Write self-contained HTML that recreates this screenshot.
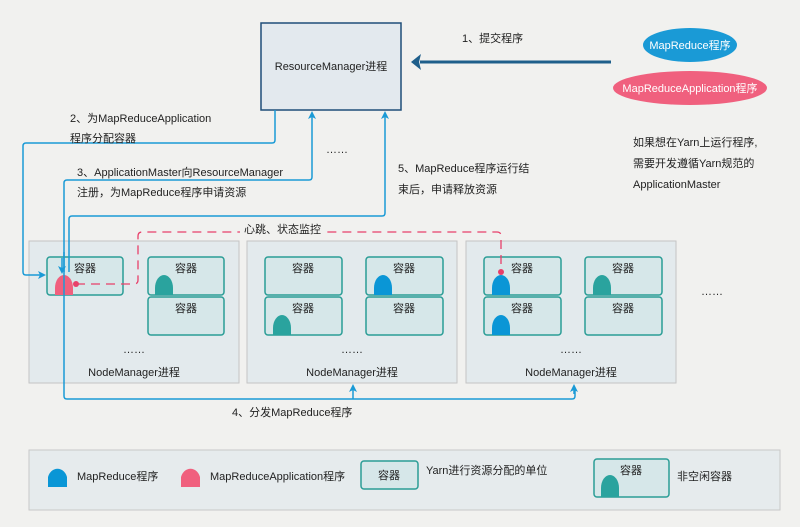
<!DOCTYPE html>
<html><head><meta charset="utf-8"><style>
html,body{margin:0;padding:0;background:#f1f1ef;}
svg{display:block;}
text{font-family:"Liberation Sans","Noto Sans CJK SC",sans-serif;font-size:11px;fill:#222;}
</style></head><body>
<svg width="800" height="527" viewBox="0 0 800 527" xmlns="http://www.w3.org/2000/svg">
<defs>
<marker id="ab" markerWidth="8" markerHeight="8" refX="4" refY="4" orient="auto" markerUnits="userSpaceOnUse"><path d="M0,0 L8,4 L0,8 L2,4 Z" fill="#1a9ad6"/></marker>
</defs>
<rect width="800" height="527" fill="#f1f1ef"/>
<!-- RM -->
<rect x="261" y="23" width="140" height="87" fill="#e3e9ee" stroke="#1f4e79" stroke-width="1.5"/>
<text x="331" y="70" text-anchor="middle">ResourceManager进程</text>
<!-- arrow 1 -->
<line x1="611" y1="62" x2="420" y2="62" stroke="#1f5f8b" stroke-width="3"/>
<path d="M411,62 L421,54 L419,62 L421,70 Z" fill="#1f5f8b"/>
<text x="462" y="42">1、提交程序</text>
<ellipse cx="690" cy="45" rx="47" ry="17" fill="#1a9ad6"/>
<text x="690" y="49" text-anchor="middle" fill="#fff" style="fill:#fff">MapReduce程序</text>
<ellipse cx="690" cy="88" rx="77" ry="17" fill="#f0607e"/>
<text x="690" y="92" text-anchor="middle" style="fill:#fff">MapReduceApplication程序</text>
<text x="633" y="146">如果想在Yarn上运行程序,</text>
<text x="633" y="167">需要开发遵循Yarn规范的</text>
<text x="633" y="188">ApplicationMaster</text>
<!-- NodeManagers -->
<g fill="#e3eaed" stroke="#c4c4c4" stroke-width="1">
<rect x="29" y="241" width="210" height="142"/>
<rect x="247" y="241" width="210" height="142"/>
<rect x="466" y="241" width="210" height="142"/>
</g>
<g fill="#d6e7e9" stroke="#2a9d96" stroke-width="1.5">
<rect x="47" y="257" width="76" height="38" rx="3"/>
<rect x="148" y="257" width="76" height="38" rx="3"/>
<rect x="148" y="297" width="76" height="38" rx="3"/>
<rect x="265" y="257" width="77" height="38" rx="3"/>
<rect x="265" y="297" width="77" height="38" rx="3"/>
<rect x="366" y="257" width="77" height="38" rx="3"/>
<rect x="366" y="297" width="77" height="38" rx="3"/>
<rect x="484" y="257" width="77" height="38" rx="3"/>
<rect x="484" y="297" width="77" height="38" rx="3"/>
<rect x="585" y="257" width="77" height="38" rx="3"/>
<rect x="585" y="297" width="77" height="38" rx="3"/>
</g>
<g text-anchor="middle">
<text x="85" y="272">容器</text><text x="186" y="272">容器</text><text x="186" y="312">容器</text>
<text x="303" y="272">容器</text><text x="303" y="312">容器</text><text x="404" y="272">容器</text><text x="404" y="312">容器</text>
<text x="522" y="272">容器</text><text x="522" y="312">容器</text><text x="623" y="272">容器</text><text x="623" y="312">容器</text>
<text x="134" y="353">……</text><text x="352" y="353">……</text><text x="571" y="353">……</text>
<text x="134" y="376">NodeManager进程</text><text x="352" y="376">NodeManager进程</text><text x="571" y="376">NodeManager进程</text>
<text x="712" y="295">……</text>
<text x="337" y="153">……</text>
</g>
<!-- bullets -->
<path d="M55,295 L55,288 A9,13 0 0 1 73,288 L73,295 Z" fill="#f0607e"/>
<path d="M155,295 L155,288 A9,13 0 0 1 173,288 L173,295 Z" fill="#2aa39e"/>
<path d="M374,295 L374,288 A9,13 0 0 1 392,288 L392,295 Z" fill="#0a96d6"/>
<path d="M273,335 L273,328 A9,13 0 0 1 291,328 L291,335 Z" fill="#2aa39e"/>
<path d="M492,295 L492,288 A9,13 0 0 1 510,288 L510,295 Z" fill="#0a96d6"/>
<path d="M492,335 L492,328 A9,13 0 0 1 510,328 L510,335 Z" fill="#0a96d6"/>
<path d="M593,295 L593,288 A9,13 0 0 1 611,288 L611,295 Z" fill="#2aa39e"/>
<!-- dashed heartbeat -->
<path d="M76,284 L134,284 Q138,284 138,280 L138,236 Q138,232 142,232 L497,232 Q501,232 501,236 L501,272" fill="none" stroke="#e8406a" stroke-width="1.3" stroke-dasharray="9,6"/>
<circle cx="76" cy="284" r="3" fill="#e8406a"/>
<circle cx="501" cy="272" r="3" fill="#e8406a"/>
<rect x="240" y="222" width="86" height="14" fill="#f1f1ef"/>
<text x="244" y="233">心跳、状态监控</text>
<!-- blue connectors -->
<g fill="none" stroke="#1a9ad6" stroke-width="1.5">
<path d="M275,110 L275,140 Q275,143 272,143 L26,143 Q23,143 23,146 L23,272 Q23,275 26,275 L42,275" marker-end="url(#ab)"/>
<path d="M64,272 L64,183 Q64,180 67,180 L309,180 Q312,180 312,177 L312,115" marker-end="url(#ab)"/>
<path d="M64,252 L64,275" />
<path d="M69,272 L69,219 Q69,216 72,216 L382,216 Q385,216 385,213 L385,115" marker-end="url(#ab)"/>
<path d="M62,258 L62,270" marker-end="url(#ab)"/>
<path d="M64,275 L64,396 Q64,399 67,399 L572,399 Q575,399 575,396 L575,388"/>
<path d="M353,399 L353,388" marker-end="url(#ab)"/>
<path d="M574,394 L574,388" marker-end="url(#ab)"/>
</g>
<text x="70" y="122">2、为MapReduceApplication</text>
<text x="70" y="142">程序分配容器</text>
<text x="77" y="176">3、ApplicationMaster向ResourceManager</text>
<text x="77" y="196">注册，为MapReduce程序申请资源</text>
<text x="398" y="172">5、MapReduce程序运行结</text>
<text x="398" y="193">束后，申请释放资源</text>
<text x="232" y="416">4、分发MapReduce程序</text>
<!-- legend -->
<rect x="29" y="450" width="751" height="60" fill="#e6ebed" stroke="#c8c8c8"/>
<path d="M48,487 L48,477 A10,12 0 0 1 67,477 L67,487 Z" fill="#0a96d6"/>
<text x="77" y="480">MapReduce程序</text>
<path d="M181,487 L181,477 A10,12 0 0 1 200,477 L200,487 Z" fill="#f0607e"/>
<text x="210" y="480">MapReduceApplication程序</text>
<rect x="361" y="461" width="57" height="28" rx="3" fill="#d6e7e9" stroke="#2a9d96" stroke-width="1.5"/>
<text x="389" y="479" text-anchor="middle">容器</text>
<text x="426" y="474">Yarn进行资源分配的单位</text>
<rect x="594" y="459" width="75" height="38" rx="3" fill="#d6e7e9" stroke="#2a9d96" stroke-width="1.5"/>
<text x="631" y="474" text-anchor="middle">容器</text>
<path d="M601,497 L601,488 A9,13 0 0 1 619,488 L619,497 Z" fill="#2aa39e"/>
<text x="677" y="480">非空闲容器</text>
</svg>
</body></html>
